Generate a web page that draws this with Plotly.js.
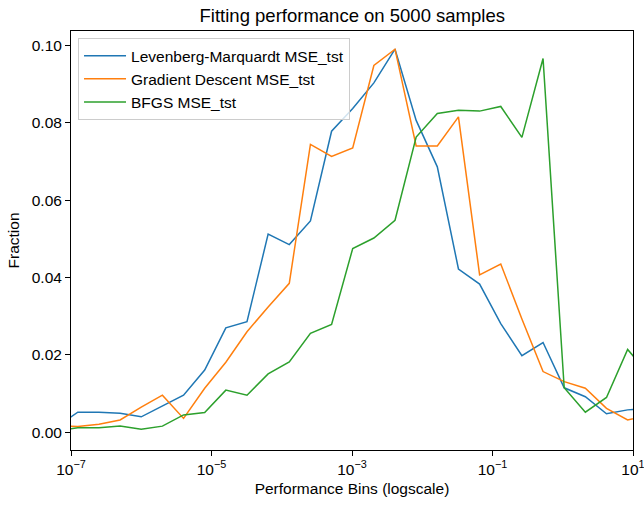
<!DOCTYPE html>
<html>
<head>
<meta charset="utf-8">
<script src="https://cdn.plot.ly/plotly-3.0.1.min.js"></script>
<style>html,body{margin:0;padding:0;background:#fff;}#chart{width:644px;height:510px;}</style>
</head>
<body>
<div id="chart"></div>
<script>
const bins = [6.25e-8, 1.25e-7, 2.5e-7, 5e-7, 1e-6, 2e-6, 4e-6, 8e-6, 1.6e-5, 3.2e-5, 6.4e-5,
  1.28e-4, 2.56e-4, 5.12e-4, 1.024e-3, 2.048e-3, 4.096e-3, 8.192e-3, 1.6384e-2, 3.2768e-2,
  6.5536e-2, 0.131072, 0.262144, 0.524288, 1.048576, 2.097152, 4.194304, 8.388608, 16.777216];

const lmMse = [0.0015, 0.0052, 0.0052, 0.0049, 0.0040, 0.0069, 0.0096, 0.0161, 0.0270, 0.0286,
  0.0512, 0.0485, 0.0546, 0.0778, 0.0837, 0.0903, 0.0990, 0.0806, 0.0686, 0.0422, 0.0383,
  0.0281, 0.0198, 0.0232, 0.0115, 0.0092, 0.0048, 0.0058, 0.0063];

const gdMse = [0.0017, 0.0015, 0.0021, 0.0032, 0.0065, 0.0096, 0.0036, 0.0114, 0.0181, 0.0260,
  0.0324, 0.0385, 0.0744, 0.0713, 0.0735, 0.0948, 0.0990, 0.0740, 0.0740, 0.0815, 0.0407,
  0.0435, 0.0293, 0.0157, 0.0131, 0.0114, 0.0062, 0.0032, 0.0045];

const bfgsMse = [0.0004, 0.0012, 0.0012, 0.0016, 0.0008, 0.0016, 0.0045, 0.0051, 0.0109, 0.0096,
  0.0151, 0.0182, 0.0256, 0.0279, 0.0475, 0.0502, 0.0548, 0.0763, 0.0824, 0.0832, 0.0830,
  0.0842, 0.0762, 0.0966, 0.0115, 0.0052, 0.0090, 0.0214, 0.0150];

const seriesNames = ["Levenberg-Marquardt MSE_tst", "Gradient Descent MSE_tst", "BFGS MSE_tst"];
const xTickVals = [1e-7, 1e-5, 1e-3, 1e-1, 1e1];
const xTickText = ["10<sup>−7</sup>", "10<sup>−5</sup>", "10<sup>−3</sup>", "10<sup>−1</sup>", "10<sup>1</sup>"];
const yTickVals = [0.00, 0.02, 0.04, 0.06, 0.08, 0.10];
const yTickText = ["0.00", "0.02", "0.04", "0.06", "0.08", "0.10"];

const colors = ["#1f77b4", "#ff7f0e", "#2ca02c"];
const ys = [lmMse, gdMse, bfgsMse];
const traces = ys.map((y, i) => ({
  x: bins, y: y, type: "scatter", mode: "lines", name: seriesNames[i],
  legendgroup: "g" + i,
  line: {color: colors[i], width: 1.5},
  hoverinfo: "skip"
}));

const fam = "Liberation Sans, Arial, sans-serif";
const fs = 15.5;
const layout = {
  width: 644, height: 510,
  margin: {l: 71, r: 11, t: 31, b: 60, pad: 0},
  paper_bgcolor: "#fff", plot_bgcolor: "#fff",
  font: {family: fam, size: fs, color: "#000"},
  showlegend: true,
  title: {text: "Fitting performance on 5000 samples", font: {family: fam, size: 18.5, color: "#000"},
          x: 0.547, xanchor: "center", y: 0.97, yanchor: "middle"},
  xaxis: {
    type: "log", range: [-7, 1],
    tickvals: xTickVals, ticktext: xTickText,
    ticks: "outside", ticklen: 5, tickwidth: 1, tickcolor: "#000",
    ticklabeloverflow: "allow",
    showline: true, linecolor: "#000", linewidth: 1, mirror: true,
    showgrid: false, zeroline: false,
    tickfont: {family: fam, size: fs, color: "#000"},
    title: {text: "Performance Bins (logscale)", font: {family: fam, size: fs, color: "#000"}, standoff: 6}
  },
  yaxis: {
    range: [-0.00457, 0.1037],
    tickvals: yTickVals, ticktext: yTickText,
    ticks: "outside", ticklen: 5, tickwidth: 1, tickcolor: "#000",
    showline: true, linecolor: "#000", linewidth: 1, mirror: true,
    showgrid: false, zeroline: false,
    tickfont: {family: fam, size: fs, color: "#000"},
    title: {text: "Fraction", font: {family: fam, size: fs, color: "#000"}, standoff: 8}
  },
  legend: {
    x: 0.0125, y: 0.983, xanchor: "left", yanchor: "top",
    bgcolor: "rgba(255,255,255,0.8)", bordercolor: "#cccccc", borderwidth: 1,
    font: {family: fam, size: fs, color: "#000"},
    itemwidth: 42,
    traceorder: "grouped", tracegroupgap: 0
  }
};

Plotly.newPlot("chart", traces, layout, {displayModeBar: false, staticPlot: true});
</script>
</body>
</html>
